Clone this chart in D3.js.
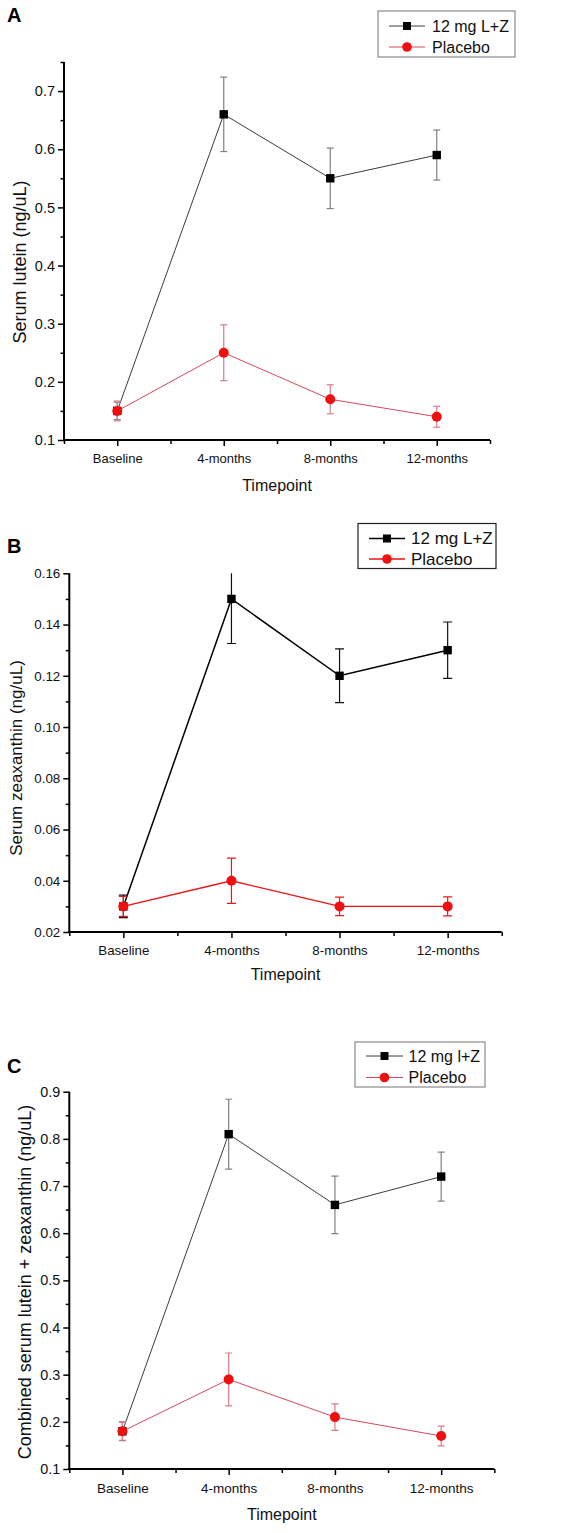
<!DOCTYPE html>
<html><head><meta charset="utf-8">
<script src="https://cdn.jsdelivr.net/npm/d3@7"></script>
<style>body{margin:0;background:#fff}svg{display:block;font-family:"Liberation Sans",Arial,sans-serif}</style>
</head><body><svg id="c" width="576" height="1533"></svg>
<script>
const categories = ["Baseline","4-months","8-months","12-months"];
const seriesNames = ["12 mg L+Z","Placebo"];
const seriesNamesC = ["12 mg l+Z","Placebo"];
// Panel A: serum lutein
const luteinLZ = [0.15,0.66,0.55,0.59];
const luteinLZErr = [0.015,0.064,0.052,0.043];
const luteinPlacebo = [0.15,0.25,0.17,0.14];
const luteinPlaceboErr = [0.017,0.048,0.025,0.018];
const ticksA = [0.1,0.2,0.3,0.4,0.5,0.6,0.7];
// Panel B: serum zeaxanthin
const zeaLZ = [0.03,0.15,0.12,0.13];
const zeaLZErr = [0.0044,0.0174,0.0105,0.011];
const zeaPlacebo = [0.03,0.04,0.03,0.03];
const zeaPlaceboErr = [0.0039,0.0088,0.0036,0.0037];
const ticksB = [0.02,0.04,0.06,0.08,0.10,0.12,0.14,0.16];
// Panel C: combined
const combLZ = [0.18,0.81,0.66,0.72];
const combLZErr = [0.02,0.074,0.061,0.052];
const combPlacebo = [0.18,0.29,0.21,0.17];
const combPlaceboErr = [0.019,0.056,0.028,0.021];
const ticksC = [0.1,0.2,0.3,0.4,0.5,0.6,0.7,0.8,0.9];

const FONT = '"Liberation Sans", Arial, sans-serif';
const svg = d3.select("#c");

const thin = {lz:"#3c3c3c", lzErr:"#808080", lzW:1, pl:"#d5485c", plErr:"#d97a88", plW:1, mk:"#ee0f0f", legBox:"#8a8a8a"};
const bold = {lz:"#000", lzErr:"#111", lzW:1.5, pl:"#f01010", plErr:"#e51a1a", plW:1.3, mk:"#f01010", legBox:"#222"};

const panels = [
 {letter:"A", lx:7, ly:22, x0:64, x1:490, y0:440, y1:62, dom:[0.1,0.75], ticks:ticksA, minorStep:0.05, fmt:d3.format(".1f"),
  lz:luteinLZ, lzE:luteinLZErr, pl:luteinPlacebo, plE:luteinPlaceboErr, st:thin, names:seriesNames,
  ytitle:"Serum lutein (ng/uL)", ytx:20, yty:262, ytSize:18, ytickSize:14.5, xtickSize:13, xtickY:463, xtY:491, xtSize:16,
  leg:{x:378,y:11,w:137,h:46,r1:26,r2:47,lx1:389,lx2:425,mx:407,tx:432,fs:16}},
 {letter:"B", lx:7, ly:553, x0:69.3, x1:501.7, y0:932, y1:573.3, dom:[0.02,0.16], ticks:ticksB, minorStep:0.01, fmt:d3.format(".2f"),
  lz:zeaLZ, lzE:zeaLZErr, pl:zeaPlacebo, plE:zeaPlaceboErr, st:bold, names:seriesNames,
  ytitle:"Serum zeaxanthin (ng/uL)", ytx:16, yty:758, ytSize:17, ytickSize:13.4, xtickSize:13.3, xtickY:955, xtY:980, xtSize:16,
  leg:{x:358,y:523.5,w:138,h:45,r1:538.5,r2:559,lx1:369,lx2:405,mx:387,tx:411,fs:17}},
 {letter:"C", lx:7, ly:1073, x0:69.3, x1:494.3, y0:1469, y1:1091.7, dom:[0.1,0.9], ticks:ticksC, minorStep:0.05, fmt:d3.format(".1f"),
  lz:combLZ, lzE:combLZErr, pl:combPlacebo, plE:combPlaceboErr, st:thin, names:seriesNamesC,
  ytitle:"Combined serum lutein + zeaxanthin (ng/uL)", ytx:25, yty:1282, ytSize:18, ytickSize:14.4, xtickSize:13.5, xtickY:1493, xtY:1520, xtSize:16,
  leg:{x:355,y:1042,w:130,h:45,r1:1056,r2:1077.5,lx1:366,lx2:403,mx:384.5,tx:408.5,fs:16}}
];

panels.forEach((p,pi)=>{
  const g = svg.append("g");
  const x = d3.scaleLinear().domain([0.5,4.5]).range([p.x0,p.x1]);
  const y = d3.scaleLinear().domain(p.dom).range([p.y0,p.y1]);
  const idx = categories.map((c,i)=>i+1);

  g.append("text").attr("x",p.lx).attr("y",p.ly).attr("font-size",20).attr("font-weight","bold").text(p.letter);

  const cid = "clip"+pi;
  svg.append("clipPath").attr("id",cid).append("rect").attr("x",p.x0).attr("y",p.y1).attr("width",p.x1-p.x0).attr("height",p.y0-p.y1);
  const plot = g.append("g").attr("clip-path",`url(#${cid})`);

  function drawSeries(vals, errs, color, errColor, w, marker){
    const pts = vals.map((v,i)=>({x:x(idx[i]), v, e:errs[i]}));
    plot.append("path").attr("d", d3.line().x(d=>d.x).y(d=>y(d.v))(pts))
      .attr("fill","none").attr("stroke",color).attr("stroke-width",w);
    const cap = p.st===bold?4.5:3.5;
    pts.forEach(d=>{
      const t=y(d.v+d.e), b=y(d.v-d.e);
      plot.append("line").attr("x1",d.x).attr("x2",d.x).attr("y1",t).attr("y2",b).attr("stroke",errColor).attr("stroke-width",1.2);
      plot.append("line").attr("x1",d.x-cap).attr("x2",d.x+cap).attr("y1",t).attr("y2",t).attr("stroke",errColor).attr("stroke-width",1.2);
      plot.append("line").attr("x1",d.x-cap).attr("x2",d.x+cap).attr("y1",b).attr("y2",b).attr("stroke",errColor).attr("stroke-width",1.2);
    });
    pts.forEach(d=>{
      if(marker==="sq") g.append("rect").attr("x",d.x-4.2).attr("y",y(d.v)-4.2).attr("width",8.4).attr("height",8.4).attr("fill","#000");
      else g.append("circle").attr("cx",d.x).attr("cy",y(d.v)).attr("r",5).attr("fill",p.st.mk);
    });
  }
  drawSeries(p.lz,p.lzE,p.st.lz,p.st.lzErr,p.st.lzW,"sq");
  drawSeries(p.pl,p.plE,p.st.pl,p.st.plErr,p.st.plW,"ci");

  const yAxis = d3.axisLeft(y).tickValues(p.ticks).tickFormat(p.fmt).tickSize(6).tickPadding(3);
  const ya = g.append("g").attr("transform",`translate(${p.x0},0)`).call(yAxis);
  const minors = d3.range(p.dom[0], p.dom[1]+1e-9, p.minorStep).filter(v=>!p.ticks.some(t=>Math.abs(t-v)<1e-9));
  const ym = g.append("g").attr("transform",`translate(${p.x0},0)`).call(d3.axisLeft(y).tickValues(minors).tickFormat("").tickSize(3.5));
  const xAxis = d3.axisBottom(x).tickValues(idx).tickFormat((d,i)=>categories[i]).tickSize(6).tickPadding(5);
  const xa = g.append("g").attr("transform",`translate(0,${p.y0})`).call(xAxis);
  const xm = g.append("g").attr("transform",`translate(0,${p.y0})`).call(d3.axisBottom(x).tickValues([0.5,1.5,2.5,3.5,4.5]).tickFormat("").tickSize(4));
  [ya,ym,xa,xm].forEach(a=>{
    a.attr("font-family",FONT);
    a.select(".domain").remove();
    a.selectAll(".tick line").attr("stroke","#000").attr("stroke-width",1.5);
  });
  g.append("line").attr("x1",p.x0).attr("x2",p.x0).attr("y1",p.y1).attr("y2",p.y0+1).attr("stroke","#000").attr("stroke-width",2);
  g.append("line").attr("x1",p.x0-1).attr("x2",p.x1).attr("y1",p.y0).attr("y2",p.y0).attr("stroke","#000").attr("stroke-width",2);
  ya.selectAll(".tick text").attr("font-size",p.ytickSize).attr("fill","#111");
  xa.selectAll(".tick text").attr("font-size",p.xtickSize).attr("fill","#111")
    .attr("dy",null).attr("y", p.xtickY - p.y0);

  g.append("text").attr("x",(p.x0+p.x1)/2).attr("y",p.xtY).attr("text-anchor","middle").attr("font-size",p.xtSize).attr("fill","#111").text("Timepoint");
  g.append("text").attr("transform",`translate(${p.ytx},${p.yty}) rotate(-90)`).attr("text-anchor","middle")
    .attr("dominant-baseline","central").attr("font-size",p.ytSize).attr("fill","#111").text(p.ytitle);

  const L = p.leg;
  g.append("rect").attr("x",L.x).attr("y",L.y).attr("width",L.w).attr("height",L.h).attr("fill","#fff").attr("stroke",p.st.legBox).attr("stroke-width",1.2);
  [[L.r1,p.st.lz,"sq",p.names[0],p.st.lzW],[L.r2,p.st.pl,"ci",p.names[1],p.st.plW]].forEach(([ry,col,mk,name,w])=>{
    g.append("line").attr("x1",L.lx1).attr("x2",L.lx2).attr("y1",ry).attr("y2",ry).attr("stroke",col).attr("stroke-width",w);
    if(mk==="sq") g.append("rect").attr("x",L.mx-4).attr("y",ry-4).attr("width",8).attr("height",8).attr("fill","#000");
    else g.append("circle").attr("cx",L.mx).attr("cy",ry).attr("r",4.8).attr("fill",p.st.mk);
    g.append("text").attr("x",L.tx).attr("y",ry).attr("dominant-baseline","central").attr("font-size",L.fs).attr("fill","#111").text(name);
  });
});
</script></body></html>
